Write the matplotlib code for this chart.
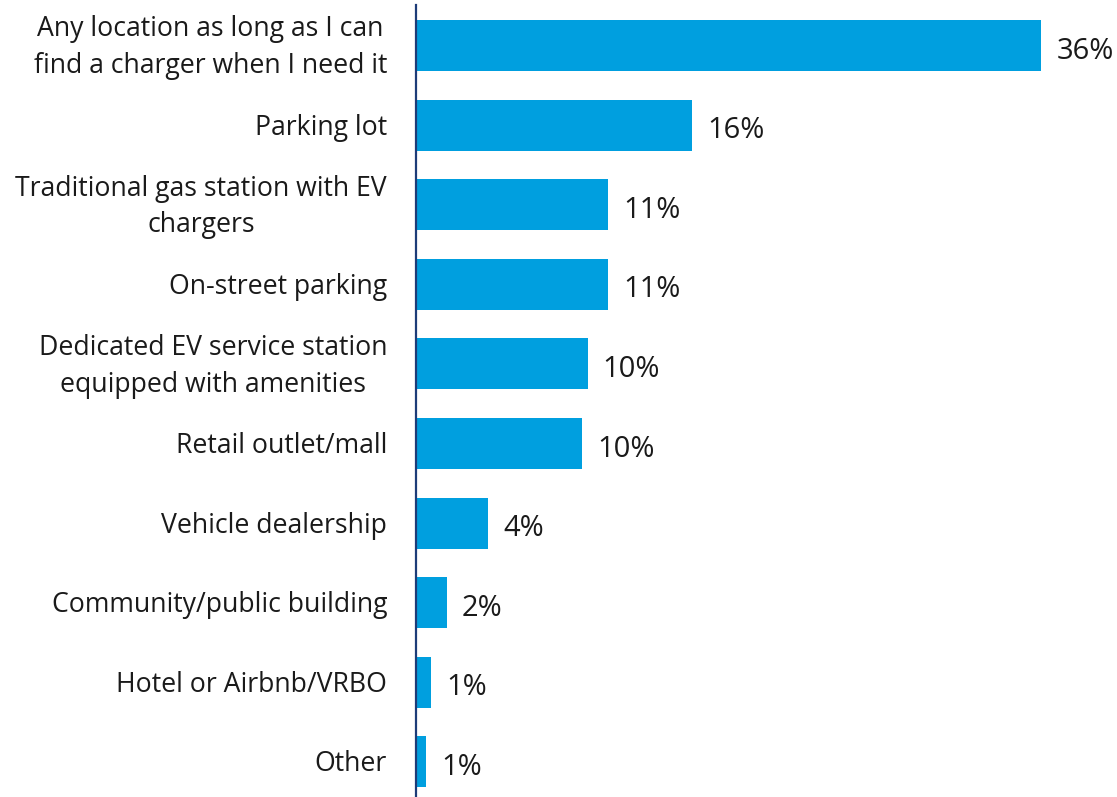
import matplotlib
matplotlib.use("Agg")
import matplotlib.pyplot as plt

plt.rcParams['font.family'] = ['Open Sans', 'DejaVu Sans']

categories = [
    "Any location as long as I can\nfind a charger when I need it",
    "Parking lot",
    "Traditional gas station with EV\nchargers",
    "On-street parking",
    "Dedicated EV service station\nequipped with amenities",
    "Retail outlet/mall",
    "Vehicle dealership",
    "Community/public building",
    "Hotel or Airbnb/VRBO",
    "Other",
]
shares = [36.0, 15.9, 11.1, 11.1, 9.9, 9.6, 4.2, 1.8, 0.9, 0.6]

BAR_COLOR = "#009FDF"
AXIS_COLOR = "#1d3c78"
TEXT_COLOR = "#1a1a1a"

W, H = 1117, 797
fig = plt.figure(figsize=(W / 100, H / 100), dpi=100)
x0, x1 = 415.5, 1041.0
ax = fig.add_axes([x0 / W, 0.0, (x1 - x0) / W, 792 / H])

pos = list(range(len(categories)))
ax.barh(pos, shares, height=0.64, color=BAR_COLOR, zorder=2)
ax.set_xlim(0, max(shares))
ax.set_ylim(9.44, -0.509)

# value labels to the right of each bar
for p, v in zip(pos, shares):
    ax.annotate(f"{round(v)}%", xy=(v, p), xytext=(11, -4), textcoords="offset points",
                va="center", ha="left", fontsize=21, color=TEXT_COLOR,
                annotation_clip=False)

# category labels, centred lines, right-aligned block left of the axis
for p, name in zip(pos, categories):
    dy = -1.6 if "\n" in name else -1.8
    ax.annotate(name, xy=(0, p), xycoords=("axes fraction", "data"),
                xytext=(-20.5, dy), textcoords="offset points",
                ha="right", va="center", multialignment="center",
                fontsize=19.2, linespacing=1.42, color=TEXT_COLOR,
                annotation_clip=False)

ax.set_yticks([])
ax.set_xticks([])

for side in ["top", "right", "bottom"]:
    ax.spines[side].set_visible(False)
ax.spines["left"].set_color(AXIS_COLOR)
ax.spines["left"].set_linewidth(1.6)
ax.spines["left"].set_zorder(3)

fig.savefig("out.png", dpi=100)
